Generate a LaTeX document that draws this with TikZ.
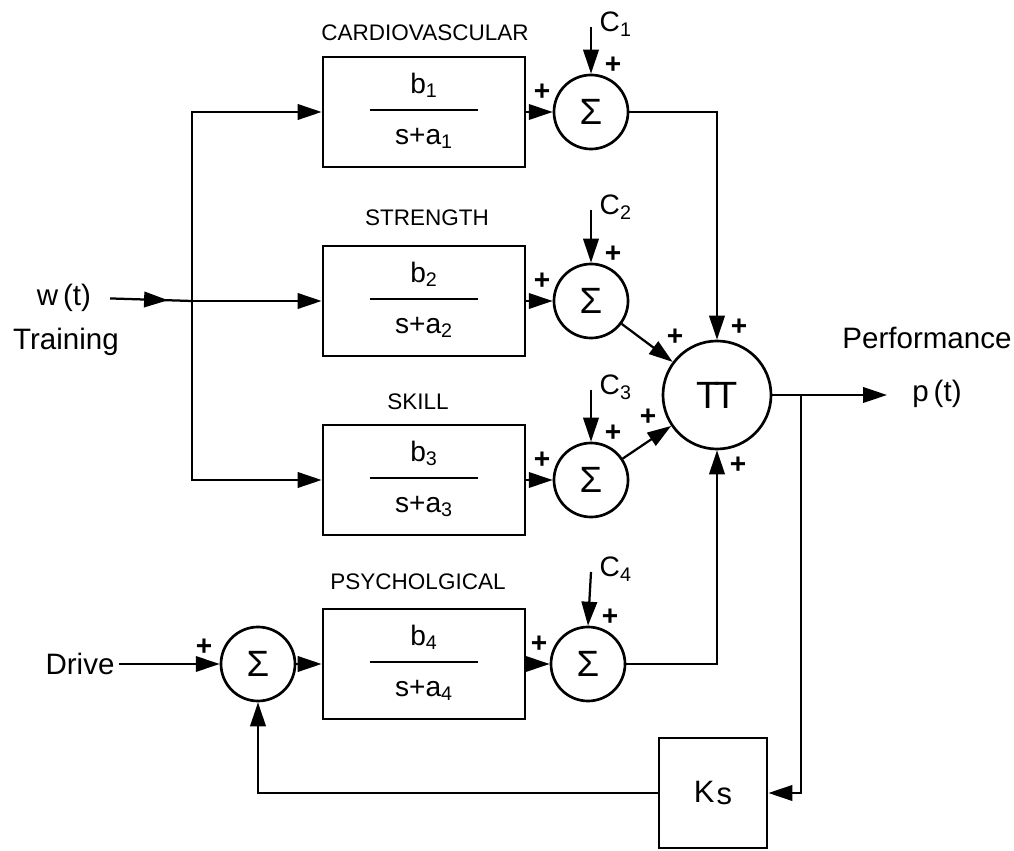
\documentclass[tikz,border=0pt]{standalone}
\usepackage{fontspec}
\setmainfont{Liberation Sans}
\usetikzlibrary{arrows.meta, positioning, calc, decorations.markings}
\newcommand{\transfer}[1]{%
  \begin{tabular}{@{}c@{}}
  b\textsubscript{#1}\\[-6pt]
  \rule[5.6pt]{2.7cm}{1.4pt}\\[-6pt]
  s+a\textsubscript{#1}
  \end{tabular}}

\begin{document}
\begin{tikzpicture}[x=0.025cm, y=0.025cm,
  block/.style={draw, line width=2pt, minimum width=5.05cm, minimum height=2.75cm,
    inner sep=0pt, font=\fontsize{20}{24}\selectfont},
  sumnode/.style={draw, circle, line width=1.9pt, minimum size=1.85cm, inner sep=0pt,
    font=\fontsize{26}{28}\selectfont},
  wire/.style={line width=1.6pt},
  arr/.style={wire, -{Triangle[length=17pt, width=11pt]}},
  midarr/.style={wire, postaction={decorate}, decoration={markings,
    mark=at position 0.75 with {\arrow{Triangle[length=17pt, width=11pt]}}}},
  sign/.style={font=\bfseries\fontsize{20}{20}\selectfont, inner sep=0pt},
  title/.style={font=\fontsize{16}{18}\selectfont},
  clabel/.style={font=\fontsize{20}{22}\selectfont, inner sep=1pt, anchor=west,
    xshift=5pt, yshift=2pt},
  txt/.style={font=\fontsize{21}{24}\selectfont}]
\useasboundingbox (0,0) rectangle (1014,850);
% dynamic blocks
\node[block] (b1) at (424,738) {\transfer{1}};
\node[block] (b2) at (424,549) {\transfer{2}};
\node[block] (b3) at (424,370) {\transfer{3}};
\node[block] (b4) at (424,186) {\transfer{4}};
\node[title] (t1) at (425,817) {CARDIOVASCULAR};
\node[title] (t2) at (427,632) {STRENGTH};
\node[title] (t3) at (418,448) {SKILL};
\node[title] (t4) at (418,268) {PSYCHOLGICAL};
% summing junctions and product
\node[sumnode] (s1) at (591,738) {Σ};
\node[sumnode] (s2) at (591,549) {Σ};
\node[sumnode] (s3) at (591,370) {Σ};
\node[sumnode] (s4) at (588,186) {Σ};
\node[sumnode] (ls) at (258,186) {Σ};
\node[sumnode, minimum size=2.7cm, font=\fontsize{27}{30}\selectfont] (pi) at (717,455)
  {T\kern-0.14em T};
\node[block, minimum width=2.7cm, font=\fontsize{22}{24}\selectfont] (ks) at (713,57)
  {K\kern1.5pt\raisebox{-1.5pt}{s}};
% inputs and outputs
\node[txt] (w) at (64,552) {w\,(t)};
\node[txt] (train) at (66,508) {Training};
\node[txt] (drive) at (80,186) {Drive};
\node[txt] (perf) at (927,512) {Performance};
\node[txt] (pout) at (937,456) {p\,(t)};
\coordinate (split) at (192,549);
\coordinate (tip) at (887,455);
\coordinate (br) at (801,455);
\coordinate (c1) at (591,823);
\coordinate (c2) at (591,640);
\coordinate (c3) at (591,460);
\coordinate (c4) at (591,278);
\node[clabel] (c1lab) at (c1) {C\textsubscript{1}};
\node[clabel] (c2lab) at (c2) {C\textsubscript{2}};
\node[clabel] (c3lab) at (c3) {C\textsubscript{3}};
\node[clabel] (c4lab) at (c4) {C\textsubscript{4}};
% connectors
\draw[midarr, shorten <=10pt] (w.east) -- (split);
\draw[arr] (split) -- (b2.west);
\draw[arr] (split) |- (b1.west);
\draw[arr] (split) |- (b3.west);
\draw[arr] (drive.east) -- (ls.west);
\draw[arr] (ls.east) -- (b4.west);
\draw[arr] (b1.east) -- (s1.west);
\draw[arr] (b2.east) -- (s2.west);
\draw[arr] (b3.east) -- (s3.west);
\draw[arr] (b4.east) -- (s4.west);
\draw[arr] (c1) -- (s1.north);
\draw[arr] (c2) -- (s2.north);
\draw[arr] (c3) -- (s3.north);
\draw[arr] (c4) -- (s4.north);
\draw[arr] (s1.east) -| (pi.north);
\draw[arr] (s2) -- (pi);
\draw[arr] (s3) -- (pi);
\draw[arr] (s4.east) -| (pi.south);
\draw[arr] (pi.east) -- (tip);
\draw[arr] (br) |- (ks.east);
\draw[arr] (ks.west) -| (ls.south);
% signs
\node[sign] (p1l) at (542,758) {+};
\node[sign] (p1t) at (613,785) {+};
\node[sign] (p2l) at (542,569) {+};
\node[sign] (p2t) at (613,596) {+};
\node[sign] (p3l) at (542,390) {+};
\node[sign] (p3t) at (613,417) {+};
\node[sign] (p4l) at (539,206) {+};
\node[sign] (p4t) at (610,233) {+};
\node[sign] (pls) at (204,203) {+};
\node[sign] (ppt) at (739,523) {+};
\node[sign] (ppu) at (675,513) {+};
\node[sign] (ppl) at (648,433) {+};
\node[sign] (ppb) at (738,385) {+};
\end{tikzpicture}
\end{document}
